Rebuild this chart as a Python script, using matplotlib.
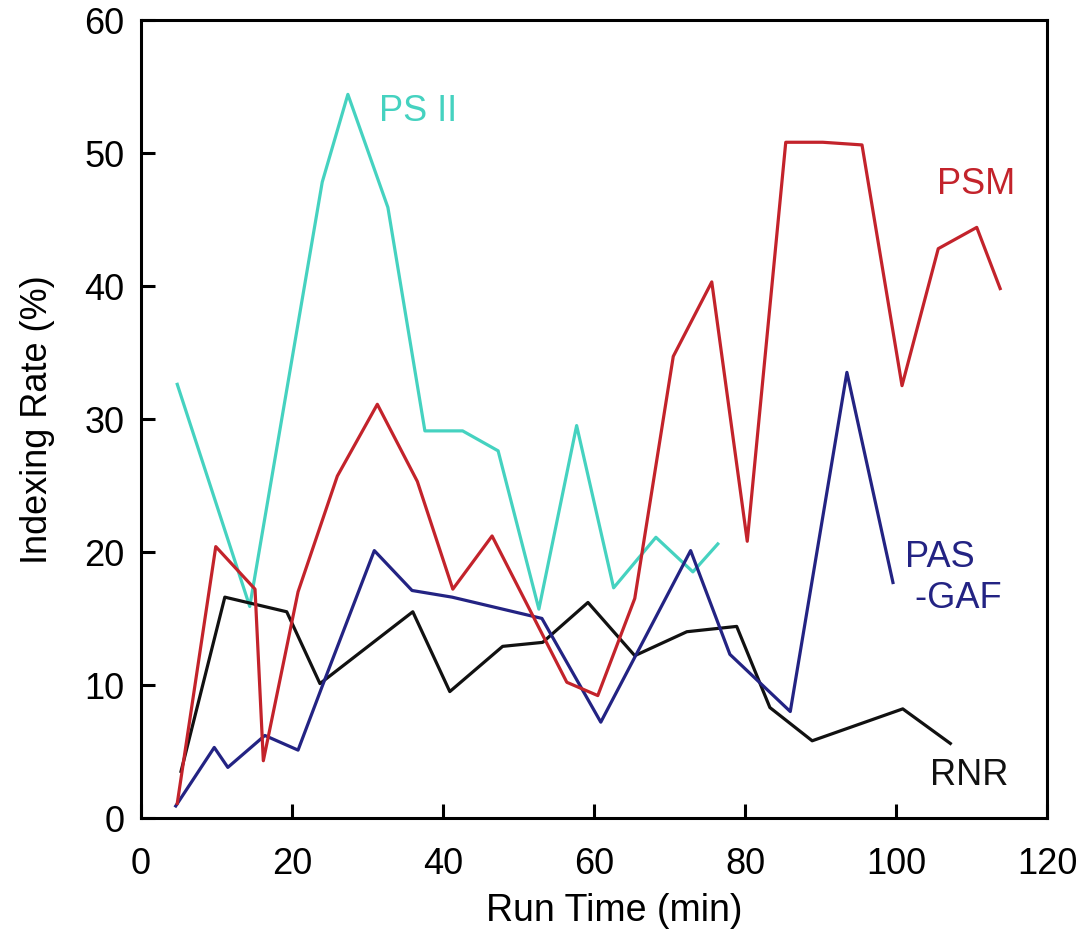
import numpy as np
import matplotlib.pyplot as plt

plt.rcParams['font.family'] = ['Liberation Sans', 'DejaVu Sans']

# Datos
psii_t = [4.8, 14.4, 24.0, 27.4, 32.7, 37.6, 42.6, 47.3, 52.7, 57.7, 62.6, 68.2, 73.1, 76.4]
psii_r = [32.6, 15.9, 47.8, 54.4, 45.9, 29.1, 29.1, 27.6, 15.7, 29.5, 17.3, 21.1, 18.5, 20.6]

psm_t = [4.8, 9.9, 15.1, 16.2, 20.8, 26.0, 31.3, 36.6, 41.3, 46.5, 56.4, 60.5, 65.4,
         70.5, 75.6, 80.3, 85.4, 90.3, 95.5, 100.8, 105.6, 110.7, 113.8]
psm_r = [1.1, 20.4, 17.2, 4.3, 17.0, 25.7, 31.1, 25.3, 17.2, 21.2, 10.2, 9.2, 16.5,
         34.7, 40.3, 20.8, 50.8, 50.8, 50.6, 32.5, 42.8, 44.4, 39.8]

pas_t = [4.6, 9.7, 11.5, 16.4, 20.8, 24.0, 30.9, 35.9, 41.2, 53.1, 60.9, 72.8, 78.0,
         86.0, 93.5, 99.6]
pas_r = [0.9, 5.3, 3.8, 6.2, 5.1, 9.9, 20.1, 17.1, 16.6, 15.0, 7.2, 20.1, 12.3,
         8.0, 33.5, 17.7]

rnr_t = [5.3, 11.1, 19.3, 23.7, 36.0, 40.9, 47.9, 53.2, 59.2, 65.4, 72.3, 78.9,
         83.3, 88.9, 100.9, 107.2]
rnr_r = [3.5, 16.6, 15.5, 10.1, 15.5, 9.5, 12.9, 13.2, 16.2, 12.2, 14.0, 14.4,
         8.3, 5.8, 8.2, 5.6]

c_psii = '#45d2c0'
c_psm = '#c3232b'
c_pas = '#232383'
c_rnr = '#111111'

fig = plt.figure(figsize=(10.89, 9.37), dpi=100)
ax = fig.add_axes([0.1295, 0.126, 0.8319, 0.8517])

lw = 2.3
ax.plot(psii_t, psii_r, color=c_psii, lw=lw)
ax.plot(rnr_t, rnr_r, color=c_rnr, lw=lw)
ax.plot(pas_t, pas_r, color=c_pas, lw=lw)
ax.plot(psm_t, psm_r, color=c_psm, lw=lw)

fs = 26
ax.text(31.5, 53.2, 'PS II', color=c_psii, fontsize=fs, va='center')
ax.text(105.5, 47.7, 'PSM', color=c_psm, fontsize=fs, va='center')
ax.text(101.2, 18.1, 'PAS\n -GAF', color=c_pas, fontsize=fs, va='center', linespacing=1.2)
ax.text(104.5, 3.3, 'RNR', color=c_rnr, fontsize=fs, va='center')

ax.set_xlim(0, 120)
ax.set_ylim(0, 60)
ax.set_xticks(np.arange(0, 121, 20))
ax.set_yticks(np.arange(0, 61, 10))
ax.tick_params(direction='in', length=10, width=2.2, labelsize=fs)
ax.tick_params(axis='x', pad=20)
ax.tick_params(axis='y', pad=12)
for s in ax.spines.values():
    s.set_linewidth(2.2)
ax.set_xlabel('Run Time (min)', fontsize=27, labelpad=8, x=0.522)
ax.set_ylabel('Indexing Rate (%)', fontsize=26, labelpad=21)

fig.savefig('out.png', dpi=100)
